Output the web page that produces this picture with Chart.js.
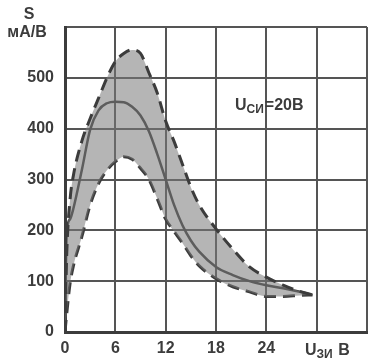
<!DOCTYPE html>
<html>
<head>
<meta charset="utf-8">
<script src="https://cdn.jsdelivr.net/npm/chart.js@4/dist/chart.umd.min.js"></script>
<style>
  html, body { margin: 0; padding: 0; background: #fff; }
  #wrap { width: 374px; height: 358px; }
</style>
</head>
<body>
<div id="wrap"><canvas id="c"></canvas></div>
<script>
// U_ЗИ, В
const uZi = [0, 0.2, 0.6, 1, 2, 3, 4, 5, 6, 7, 8, 9, 10, 11, 12, 13, 14, 15, 16, 18, 20, 22, 24, 26, 28, 29.5];
// S, мА/В : upper spread, typical, lower spread
const sMax = [0, 150, 260, 308, 375, 420, 460, 500, 532, 548, 555, 548, 510, 470, 415, 375, 330, 285, 250, 203, 163, 128, 108, 92, 80, 73];
const sTyp = [0, 195, 222, 243, 318, 398, 436, 450, 453, 452, 443, 426, 395, 350, 300, 250, 210, 180, 158, 128, 112, 100, 92, 86, 79, 73];
const sMin = [0, 35, 95, 130, 187, 250, 292, 318, 335, 345, 340, 322, 300, 262, 222, 198, 175, 150, 130, 105, 89, 79, 70, 70, 72, 73];

const xTicks = [0, 6, 12, 18, 24];
const yTicks = [0, 100, 200, 300, 400, 500];

const ink = '#3c3c3c';
const fontFam = '"Liberation Sans", Arial, sans-serif';

const pts = arr => arr.map((v, i) => ({ x: uZi[i], y: v }));

// subscripted labels drawn on the canvas
const labels = {
  id: 'labels',
  afterDraw(chart) {
    const ctx = chart.ctx;
    ctx.save();
    ctx.fillStyle = ink;
    ctx.textBaseline = 'alphabetic';
    ctx.textAlign = 'center';
    ctx.font = 'bold 16px ' + fontFam;
    ctx.fillText('S', 29, 19);
    ctx.fillText('мА/В', 27, 37);

    const sub = (x, y, main, small, tail) => {
      ctx.textAlign = 'left';
      ctx.font = 'bold 16px ' + fontFam;
      ctx.fillText(main, x, y);
      let w = ctx.measureText(main).width;
      ctx.font = 'bold 12px ' + fontFam;
      ctx.fillText(small, x + w, y + 3);
      w += ctx.measureText(small).width + 1;
      ctx.font = 'bold 16px ' + fontFam;
      ctx.fillText(tail, x + w, y);
    };
    sub(235, 110, 'U', 'СИ', '=20В');
    sub(305, 355, 'U', 'ЗИ', ' В');
    ctx.restore();
  }
};

new Chart(document.getElementById('c'), {
  type: 'line',
  data: {
    datasets: [
      {
        data: pts(sMax),
        borderColor: ink,
        borderWidth: 3,
        borderDash: [12, 7],
        backgroundColor: 'rgba(120,120,120,0.55)',
        fill: { target: 2 },
        pointRadius: 0,
        cubicInterpolationMode: 'monotone',
      },
      {
        data: pts(sTyp),
        borderColor: ink,
        borderWidth: 2.5,
        fill: false,
        pointRadius: 0,
        cubicInterpolationMode: 'monotone',
      },
      {
        data: pts(sMin),
        borderColor: ink,
        borderWidth: 3,
        borderDash: [12, 7],
        fill: false,
        pointRadius: 0,
        cubicInterpolationMode: 'monotone',
      },
    ],
  },
  options: {
    responsive: true,
    maintainAspectRatio: false,
    animation: false,
    layout: { padding: { top: 27, right: 0, left: 0, bottom: 0 } },
    plugins: { legend: { display: false }, tooltip: { enabled: false } },
    scales: {
      x: {
        type: 'linear',
        min: 0,
        max: 36,
        afterFit: s => { s.height = 26; },
        afterBuildTicks: s => { s.ticks = [0, 6, 12, 18, 24, 30, 36].map(v => ({ value: v })); },
        ticks: {
          color: ink,
          font: { family: fontFam, size: 16, weight: 'bold' },
          padding: 7,
          maxRotation: 0,
          callback: v => (xTicks.includes(v) ? String(v) : ''),
        },
        grid: { color: '#555', lineWidth: 2, drawTicks: false },
        border: { color: ink, width: 3 },
      },
      y: {
        min: 0,
        max: 600,
        afterFit: s => { s.width = 65; },
        afterBuildTicks: s => { s.ticks = [0, 100, 200, 300, 400, 500, 600].map(v => ({ value: v })); },
        ticks: {
          color: ink,
          font: { family: fontFam, size: 16, weight: 'bold' },
          padding: 11,
          callback: v => (yTicks.includes(v) ? String(v) : ''),
        },
        grid: { color: '#555', lineWidth: 2, drawTicks: false },
        border: { color: ink, width: 3 },
      },
    },
  },
  plugins: [labels],
});
</script>
</body>
</html>
